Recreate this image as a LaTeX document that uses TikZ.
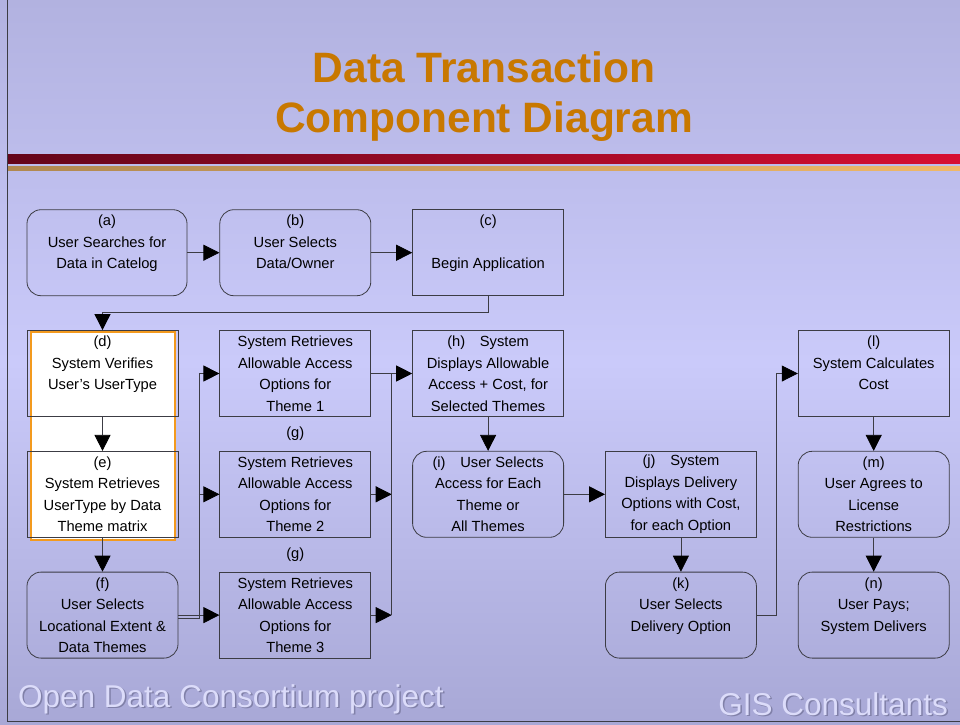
\documentclass[tikz,border=0pt]{standalone}
\usepackage{fontspec}
\setmainfont{Liberation Sans}
\usetikzlibrary{
  arrows.meta,
  calc,
  positioning
}
\definecolor{slatetop}{HTML}{B2B2E0}
\definecolor{slatemid}{HTML}{CACAFA}
\definecolor{slatelow}{HTML}{A8A8D6}
\definecolor{darkred}{HTML}{64051A}
\definecolor{crimson}{HTML}{D70F32}
\definecolor{darkgold}{HTML}{B08850}
\definecolor{lightgold}{HTML}{F0B868}
\definecolor{titleorange}{HTML}{C87800}
\definecolor{selorange}{HTML}{F39A1E}
\definecolor{edgegray}{HTML}{3C3C44}
\definecolor{footlight}{HTML}{DCDCFA}
\definecolor{footshadow}{HTML}{8080A8}
\tikzset{
  sysbox/.style={
    draw=edgegray,
    line width=0.8pt,
    minimum width=151pt,
    minimum height=86pt,
    inner sep=0pt,
    align=center,
    font=\fontsize{14.7}{21.5}\selectfont
  },
  userbox/.style={sysbox, rounded corners=14pt},
  arrow/.style={-{Triangle[length=16pt, width=16pt, color=black]}, line width=0.8pt, draw=edgegray},
  link/.style={line width=0.8pt, draw=edgegray},
  glabel/.style={font=\fontsize{14.7}{16}\selectfont},
  heading/.style={font=\bfseries\fontsize{42.5}{50}\selectfont, text=titleorange, align=center},
  footer/.style={font=\fontsize{31.5}{36}\selectfont, text=footlight, inner sep=0pt}
}
\begin{document}
\begin{tikzpicture}[x=1pt, y=-1pt, node distance=34pt and 41pt]
  % slide background and rules
  \shade[top color=slatetop, bottom color=slatelow, middle color=slatemid] (0,0) rectangle (960,724);
  \useasboundingbox (0,0) rectangle (960,724);
  \draw[edgegray, line width=1.2pt] (7.5,0) -- (7.5,721.5) -- (960,721.5);
  \shade[left color=darkred, right color=crimson] (8,154) rectangle (960,163);
  \shade[left color=darkgold, right color=lightgold] (8,166) rectangle (960,170);

  \node[heading] (title) at (484,97) {Data Transaction\\Component Diagram};

  % selection frame round (d) and (e)
  \draw[selorange, fill=white, line width=1.3pt] (31,332) rectangle (175,540);

  \node[sysbox] (d) at (102.5,373.5) {(d)\\System Verifies\\User's UserType\\~};
  \node[sysbox, below=of d] (e) {(e)\\System Retrieves\\UserType by Data\\Theme matrix};
  \node[userbox, below=of e] (f) {(f)\\User Selects\\Locational Extent \&\\Data Themes};

  \node[sysbox, right=of d] (g1) {System Retrieves\\Allowable Access\\Options for\\Theme 1};
  \node[sysbox, right=of e] (g2) {System Retrieves\\Allowable Access\\Options for\\Theme 2};
  \node[sysbox, right=of f] (g3) {System Retrieves\\Allowable Access\\Options for\\Theme 3};
  \node[glabel] (glbl2) at ($(g1.south)!0.5!(g2.north)$) {(g)};
  \node[glabel] (glbl3) at ($(g2.south)!0.5!(g3.north)$) {(g)};

  \node[sysbox, right=of g1] (h) {(h)\quad System\\Displays Allowable\\Access + Cost, for\\Selected Themes};
  \node[sysbox, above=of h] (c) {(c)\\~\\Begin Application\\~};
  \node[userbox, left=of c] (b) {(b)\\User Selects\\Data/Owner\\~};
  \node[userbox, minimum width=160pt, left=32pt of b] (a) {(a)\\User Searches for\\Data in Catelog\\~};

  \node[userbox, below=of h] (i) {(i)\quad User Selects\\Access for Each\\Theme or\\All Themes};
  \node[sysbox, right=of i] (j) {(j)\quad System\\Displays Delivery\\Options with Cost,\\for each Option};
  \node[userbox, below=of j] (k) {(k)\\User Selects\\Delivery Option\\~};

  \node[userbox, right=of j] (m) {(m)\\User Agrees to\\License\\Restrictions};
  \node[sysbox, above=of m] (l) {(l)\\System Calculates\\Cost\\~};
  \node[userbox, below=of m] (n) {(n)\\User Pays;\\System Delivers\\~};

  \draw[arrow] (a) -- (b);
  \draw[arrow] (b) -- (c);
  \draw[arrow] (c.south) -- ++(0,16) -| (d.north);
  \draw[arrow] (d) -- (e);
  \draw[arrow] (e) -- (f);

  % fan out to the three theme boxes
  \coordinate (fork) at ($(f.east)!0.5!(g3.west)$);
  \draw[arrow] (f.east) -- (g3.west);
  \draw[link] ([yshift=-3pt]f.east) -| (fork |- g1);
  \draw[arrow] (fork |- g1) -- (g1.west);
  \draw[arrow] (fork |- g2) -- (g2.west);

  % gather back into (h)
  \coordinate (merge) at ($(g3.east)!0.5!(h.west |- g3)$);
  \draw[arrow] (g1.east) -- (h.west);
  \draw[arrow] (g2.east) -- (merge |- g2);
  \draw[arrow] (g3.east) -- (merge |- g3);
  \draw[link] (merge |- g3) -- (merge |- h);

  \draw[arrow] (h) -- (i);
  \draw[arrow] (i) -- (j);
  \draw[arrow] (j) -- (k);
  \draw[arrow] (k.east) -- ++(20,0) |- (l.west);
  \draw[arrow] (l) -- (m);
  \draw[arrow] (m) -- (n);

  % footer
  \node[footer, text=footshadow, anchor=west] at (19.5,700.5) {Open Data Consortium project};
  \node[footer, anchor=west] (odc) at (18,699) {Open Data Consortium project};
  \node[footer, text=footshadow, anchor=east] at (949.5,705.5) {GIS Consultants};
  \node[footer, anchor=east] (gis) at (948,704) {GIS Consultants};
\end{tikzpicture}
\end{document}
